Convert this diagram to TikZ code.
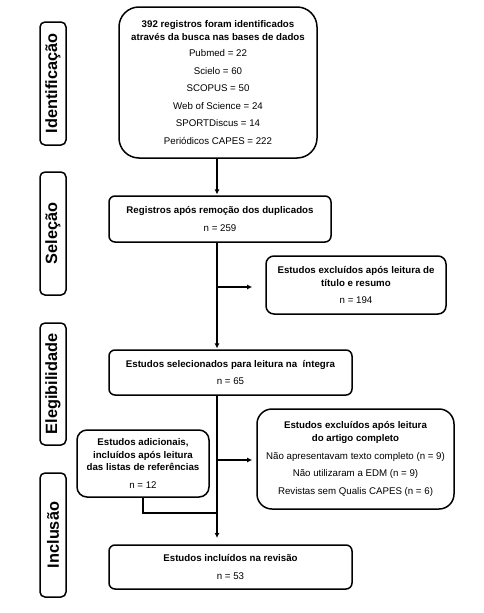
\documentclass[tikz,border=0pt]{standalone}
\usepackage{fontspec}
\setmainfont{Liberation Sans}
\usetikzlibrary{arrows.meta}
\begin{document}
\begin{tikzpicture}[x=1pt,y=-1pt,
  box/.style={draw, line width=1.5pt, rounded corners=6pt, align=center, inner sep=0pt,
    font=\fontsize{9.7}{17.5}\selectfont},
  side/.style={draw, line width=1.5pt, rounded corners=5pt, inner sep=0pt, rotate=90,
    minimum height=26pt, font=\fontsize{16.3}{18}\selectfont\bfseries},
  conn/.style={line width=1.2pt},
  arr/.style={conn, -{Latex[length=5pt,width=5pt]}, shorten >=0.8pt}]
\useasboundingbox (0,0) rectangle (483,613);

% side labels
\node[side, minimum width=123pt] (s1) at (53,83.5) {Identificação};
\node[side, minimum width=123pt] (s2) at (53,233.5) {Seleção};
\node[side, minimum width=122pt] (s3) at (53,384) {Elegibilidade};
\node[side, minimum width=124pt] (s4) at (53,535) {Inclusão};

% boxes
\node[box, rounded corners=20pt, minimum width=198pt, minimum height=151pt] (b1) at (218,82.5)
  {\textbf{392 registros foram identificados}\\[-4.7pt]
   \textbf{através da busca nas bases de dados}\\[-1.5pt]
   Pubmed = 22\\ Scielo = 60\\ SCOPUS = 50\\ Web of Science = 24\\ SPORTDiscus = 14\\ Periódicos CAPES = 222};
\node[box, minimum width=222pt, minimum height=46pt] (b2) at (220,219)
  {\textbf{Registros após remoção dos duplicados}\\ n = 259};
\node[box, rounded corners=8pt, minimum width=180pt, minimum height=58pt] (b4) at (356,285)
  {\textbf{Estudos excluídos após leitura de}\\[-5pt] \textbf{título e resumo}\\ n = 194};
\node[box, minimum width=243pt, minimum height=45pt] (b3) at (230.5,372.5)
  {\textbf{Estudos selecionados para leitura na\ \ íntegra}\\ n = 65};
\node[box, rounded corners=15pt, minimum width=197pt, minimum height=100pt] (b5) at (355.5,459)
  {\textbf{Estudos excluídos após leitura}\\[-4.5pt] \textbf{do artigo completo}\\
   Não apresentavam texto completo (n = 9)\\ Não utilizaram a EDM (n = 9)\\ Revistas sem Qualis CAPES (n = 6)};
\node[box, rounded corners=10pt, minimum width=132pt, minimum height=67pt] (b7) at (143,463.5)
  {\textbf{Estudos adicionais,}\\[-5pt] \textbf{incluídos após leitura}\\[-5pt] \textbf{das listas de referências}\\ n = 12};
\node[box, minimum width=243pt, minimum height=44pt] (b6) at (230.5,567)
  {\textbf{Estudos incluídos na revisão}\\ n = 53};

% connectors
\coordinate (t) at (217,0);
\coordinate (j1) at (217,287);
\coordinate (e1) at (253,287);
\coordinate (j2) at (217,460);
\coordinate (e2) at (253,460);
\coordinate (j3) at (217,513);
\coordinate (e3) at (217,538);

\draw[arr] (t |- b1.south) -- (t |- b2.north);
\draw[arr] (t |- b2.south) -- (t |- b3.north);
\draw[arr] (j1) -- (e1);
\draw[conn] (t |- b3.south) -- (j3);
\draw[arr, shorten >=0pt] (j3) -- (e3);
\draw[arr] (j2) -- (e2);
\draw[conn] (b7.south) -- (b7.south |- j3) -- (j3);
\end{tikzpicture}
\end{document}
